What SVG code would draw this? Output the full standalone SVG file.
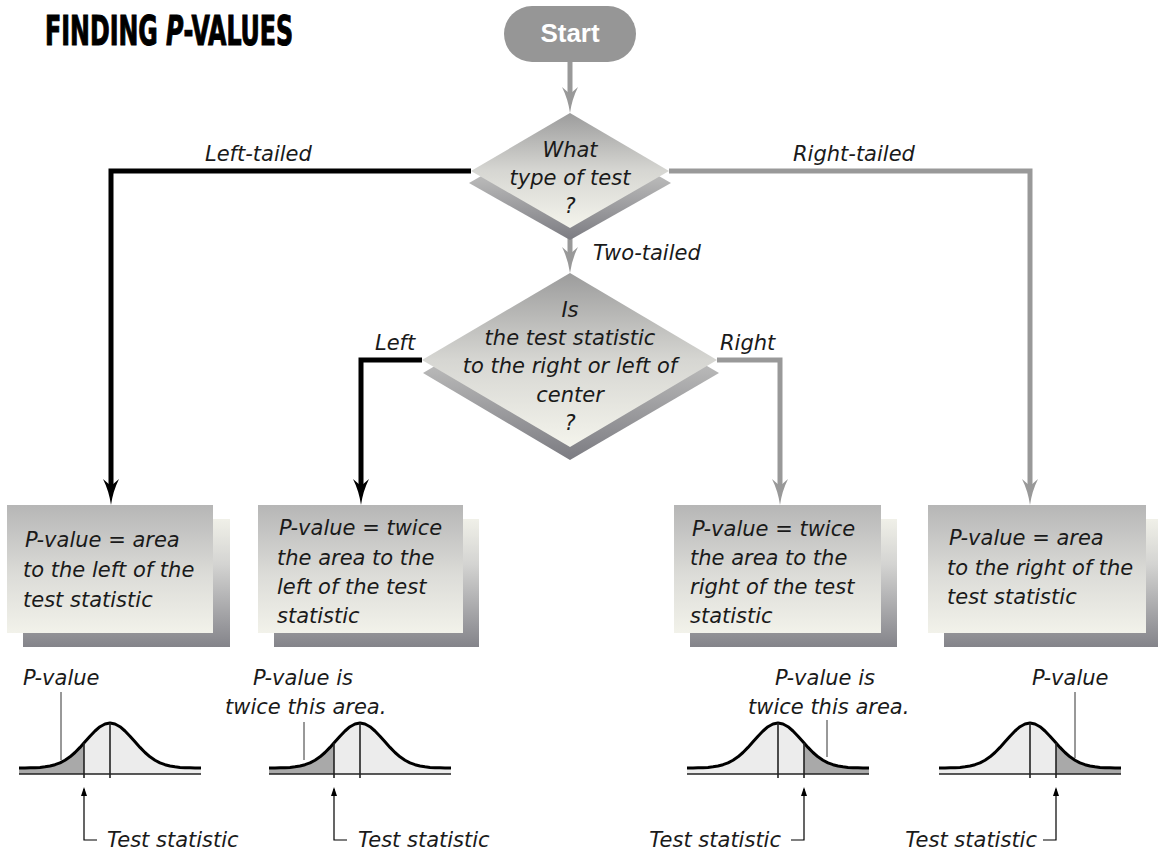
<svg xmlns="http://www.w3.org/2000/svg" xmlns:xlink="http://www.w3.org/1999/xlink" width="1158" height="855" viewBox="0 0 1158 855">
<style>
.hand{font-family:"DejaVu Sans","Liberation Sans",sans-serif;font-style:italic;font-weight:200;font-size:21px;fill:#1a1a1a}
.mid{text-anchor:middle}
.end{text-anchor:end}
.title{font-family:"DejaVu Sans Condensed","DejaVu Sans",sans-serif;font-stretch:condensed;font-weight:bold;font-size:40px;fill:#000;stroke:#000;stroke-width:1}
.start{font-family:"Liberation Sans",Arial,sans-serif;font-weight:bold;font-size:26px;fill:#fff}
.blk{fill:none;stroke:#000;stroke-width:5;marker-end:url(#ahB)}
.gry{fill:none;stroke:#999;stroke-width:5;marker-end:url(#ahG)}
.box{fill:url(#gBox)}
.shadow{fill:url(#gShadow)}
.dia{fill:url(#gDia)}
.diaS{fill:url(#gDiaS)}
.light{fill:#ececec}
.dark{fill:#a9a9a9}
.curve{fill:none;stroke:#000;stroke-width:3;stroke-linejoin:round}
.axis{stroke:#222;stroke-width:1.5}
.vline{stroke:#222;stroke-width:1.6}
.lead{stroke:#333;stroke-width:1;fill:none}
.tarr{stroke:#000;stroke-width:1.2;fill:none;marker-end:url(#ahS)}
</style>
<defs>
<marker id="ahB" markerUnits="userSpaceOnUse" orient="auto" markerWidth="40" markerHeight="20" refX="0" refY="0" viewBox="-14 -10 40 20" overflow="visible">
<path d="M14,0 Q0,-2 -12,-8 L-5,0 L-12,8 Q0,2 14,0 Z" fill="#000"/>
</marker>
<marker id="ahG" markerUnits="userSpaceOnUse" orient="auto" markerWidth="40" markerHeight="20" refX="0" refY="0" viewBox="-14 -10 40 20" overflow="visible">
<path d="M14,0 Q0,-2 -12,-8 L-5,0 L-12,8 Q0,2 14,0 Z" fill="#999"/>
</marker>
<marker id="ahS" markerUnits="userSpaceOnUse" orient="auto" markerWidth="12" markerHeight="8" refX="0" refY="0" viewBox="-10 -4 12 8" overflow="visible">
<path d="M2,0 L-7,-3 L-7,3 Z" fill="#000"/>
</marker>
<linearGradient id="gBox" x1="0" y1="0" x2="0" y2="1">
<stop offset="0" stop-color="#b6b6b6"/>
<stop offset="0.55" stop-color="#dcdcd8"/>
<stop offset="1" stop-color="#f2f2ea"/>
</linearGradient>
<linearGradient id="gShadow" x1="0" y1="0" x2="0" y2="1">
<stop offset="0" stop-color="#f0f0e8"/>
<stop offset="0.35" stop-color="#d4d4d2"/>
<stop offset="1" stop-color="#84848a"/>
</linearGradient>
<linearGradient id="gDia" x1="0" y1="0" x2="0" y2="1">
<stop offset="0" stop-color="#9c9c9c"/>
<stop offset="0.5" stop-color="#d6d6d2"/>
<stop offset="1" stop-color="#f4f4ec"/>
</linearGradient>
<linearGradient id="gDiaS" x1="0" y1="0" x2="0" y2="1">
<stop offset="0" stop-color="#e4e4e0"/>
<stop offset="0.5" stop-color="#b4b4b4"/>
<stop offset="1" stop-color="#7c7c82"/>
</linearGradient>
<clipPath id="clipL"><rect x="-100" y="-60" width="74" height="80"/></clipPath>
<clipPath id="clipR"><rect x="26" y="-60" width="74" height="80"/></clipPath>
<path id="bell" d="M-91,0 L-85,-0.1 L-80,-0.2 L-75,-0.3 L-70,-0.6 L-65,-1.2 L-60,-2 L-55,-3.3 L-50,-5.1 L-45,-7.8 L-40,-11.2 L-35,-15.5 L-30,-20.6 L-25,-26.2 L-20,-31.8 L-15,-37 L-10,-41.3 L-5,-44 L0,-45 L5,-44 L10,-41.3 L15,-37 L20,-31.8 L25,-26.2 L30,-20.6 L35,-15.5 L40,-11.2 L45,-7.8 L50,-5.1 L55,-3.3 L60,-2 L65,-1.2 L70,-0.6 L75,-0.3 L80,-0.2 L85,-0.1 L91,0"/>
<path id="bellArea" d="M-91,0 L-85,-0.1 L-80,-0.2 L-75,-0.3 L-70,-0.6 L-65,-1.2 L-60,-2 L-55,-3.3 L-50,-5.1 L-45,-7.8 L-40,-11.2 L-35,-15.5 L-30,-20.6 L-25,-26.2 L-20,-31.8 L-15,-37 L-10,-41.3 L-5,-44 L0,-45 L5,-44 L10,-41.3 L15,-37 L20,-31.8 L25,-26.2 L30,-20.6 L35,-15.5 L40,-11.2 L45,-7.8 L50,-5.1 L55,-3.3 L60,-2 L65,-1.2 L70,-0.6 L75,-0.3 L80,-0.2 L85,-0.1 L91,0 L91,6 L-91,6 Z"/>
</defs>
<rect width="1158" height="855" fill="#fff"/>

<g id="title">
<text class="title" transform="translate(45,45) scale(0.66,1)" x="0" y="0">FINDING <tspan font-style="italic">P</tspan>-VALUES</text>
</g>

<g id="connectors">
<path class="gry" d="M570,62 L570,99"/>
<path class="blk" d="M471,171 L111,171 L111,491"/>
<path class="gry" d="M669,171 L1030,171 L1030,491"/>
<path class="gry" d="M570,238 L570,259"/>
<path class="blk" d="M422,360 L361,360 L361,491"/>
<path class="gry" d="M717,360 L780,360 L780,491"/>
<text class="hand" x="205" y="161">Left-tailed</text>
<text class="hand" x="793" y="161">Right-tailed</text>
<text class="hand" x="593" y="260">Two-tailed</text>
<text class="hand" x="375" y="350">Left</text>
<text class="hand" x="720" y="350">Right</text>
</g>

<g id="start">
<rect x="504" y="6" width="132" height="56" rx="28" fill="#969696"/>
<text class="start mid" x="570" y="42">Start</text>
</g>

<g id="decision1">
<polygon class="diaS" points="570,125 671,183 570,240 469,183"/>
<polygon class="dia" points="570,113 669,171 570,228 471,171"/>
<text class="hand mid" x="570" y="157">What</text>
<text class="hand mid" x="570" y="185">type of test</text>
<text class="hand mid" x="570" y="213">?</text>
</g>

<g id="decision2">
<polygon class="diaS" points="570,286 719,373 570,460 423,373"/>
<polygon class="dia" points="570,273 717,360 570,447 422,360"/>
<text class="hand mid" x="570" y="317">Is</text>
<text class="hand mid" x="570" y="345">the test statistic</text>
<text class="hand mid" x="570" y="373">to the right or left of</text>
<text class="hand mid" x="570" y="402">center</text>
<text class="hand mid" x="570" y="430">?</text>
</g>

<g id="box1">
<rect class="shadow" x="23" y="519" width="207" height="128"/>
<rect class="box" x="7" y="505" width="206" height="128"/>
<text class="hand" x="25" y="547">P-value = area</text>
<text class="hand" x="23" y="577">to the left of the</text>
<text class="hand" x="23" y="607">test statistic</text>
</g>

<g id="box2">
<rect class="shadow" x="274" y="519" width="205" height="128"/>
<rect class="box" x="258" y="505" width="205" height="128"/>
<text class="hand" x="279" y="535">P-value = twice</text>
<text class="hand" x="277" y="565">the area to the</text>
<text class="hand" x="277" y="594">left of the test</text>
<text class="hand" x="277" y="623">statistic</text>
</g>

<g id="box3">
<rect class="shadow" x="690" y="519" width="207" height="128"/>
<rect class="box" x="674" y="505" width="207" height="128"/>
<text class="hand" x="692" y="536">P-value = twice</text>
<text class="hand" x="690" y="565">the area to the</text>
<text class="hand" x="690" y="594">right of the test</text>
<text class="hand" x="690" y="623">statistic</text>
</g>

<g id="box4">
<rect class="shadow" x="944" y="519" width="214" height="128"/>
<rect class="box" x="928" y="505" width="218" height="128"/>
<text class="hand" x="949" y="545">P-value = area</text>
<text class="hand" x="947" y="575">to the right of the</text>
<text class="hand" x="947" y="604">test statistic</text>
</g>

<g id="curve1">
<g transform="translate(110,768)">
<use xlink:href="#bellArea" class="light"/>
<use xlink:href="#bellArea" class="dark" clip-path="url(#clipL)"/>
<line class="axis" x1="-91" y1="6" x2="91" y2="6"/>
<use xlink:href="#bell" class="curve"/>
<line class="vline" x1="0" y1="-45" x2="0" y2="10"/>
<line class="vline" x1="-26" y1="-25" x2="-26" y2="10"/>
</g>
<text class="hand" x="23" y="685">P-value</text>
<line class="lead" x1="61" y1="692" x2="61" y2="760"/>
<path class="tarr" d="M97,840 L84,840 L84,789"/>
<text class="hand" x="107" y="847">Test statistic</text>
</g>

<g id="curve2">
<g transform="translate(360,768)">
<use xlink:href="#bellArea" class="light"/>
<use xlink:href="#bellArea" class="dark" clip-path="url(#clipL)"/>
<line class="axis" x1="-91" y1="6" x2="91" y2="6"/>
<use xlink:href="#bell" class="curve"/>
<line class="vline" x1="0" y1="-45" x2="0" y2="10"/>
<line class="vline" x1="-26" y1="-25" x2="-26" y2="10"/>
</g>
<text class="hand" x="253" y="685">P-value is</text>
<text class="hand" x="225" y="714">twice this area.</text>
<line class="lead" x1="304" y1="722" x2="304" y2="760"/>
<path class="tarr" d="M347,840 L334,840 L334,789"/>
<text class="hand" x="358" y="847">Test statistic</text>
</g>

<g id="curve3">
<g transform="translate(778,768)">
<use xlink:href="#bellArea" class="light"/>
<use xlink:href="#bellArea" class="dark" clip-path="url(#clipR)"/>
<line class="axis" x1="-91" y1="6" x2="91" y2="6"/>
<use xlink:href="#bell" class="curve"/>
<line class="vline" x1="0" y1="-45" x2="0" y2="10"/>
<line class="vline" x1="26" y1="-25" x2="26" y2="10"/>
</g>
<text class="hand" x="775" y="685">P-value is</text>
<text class="hand" x="748" y="714">twice this area.</text>
<line class="lead" x1="827" y1="720" x2="827" y2="757"/>
<path class="tarr" d="M791,840 L804,840 L804,789"/>
<text class="hand end" x="781" y="847">Test statistic</text>
</g>

<g id="curve4">
<g transform="translate(1030,768)">
<use xlink:href="#bellArea" class="light"/>
<use xlink:href="#bellArea" class="dark" clip-path="url(#clipR)"/>
<line class="axis" x1="-91" y1="6" x2="91" y2="6"/>
<use xlink:href="#bell" class="curve"/>
<line class="vline" x1="0" y1="-45" x2="0" y2="10"/>
<line class="vline" x1="26" y1="-25" x2="26" y2="10"/>
</g>
<text class="hand" x="1032" y="685">P-value</text>
<line class="lead" x1="1075" y1="692" x2="1075" y2="758"/>
<path class="tarr" d="M1043,840 L1056,840 L1056,789"/>
<text class="hand end" x="1037" y="847">Test statistic</text>
</g>
</svg>
